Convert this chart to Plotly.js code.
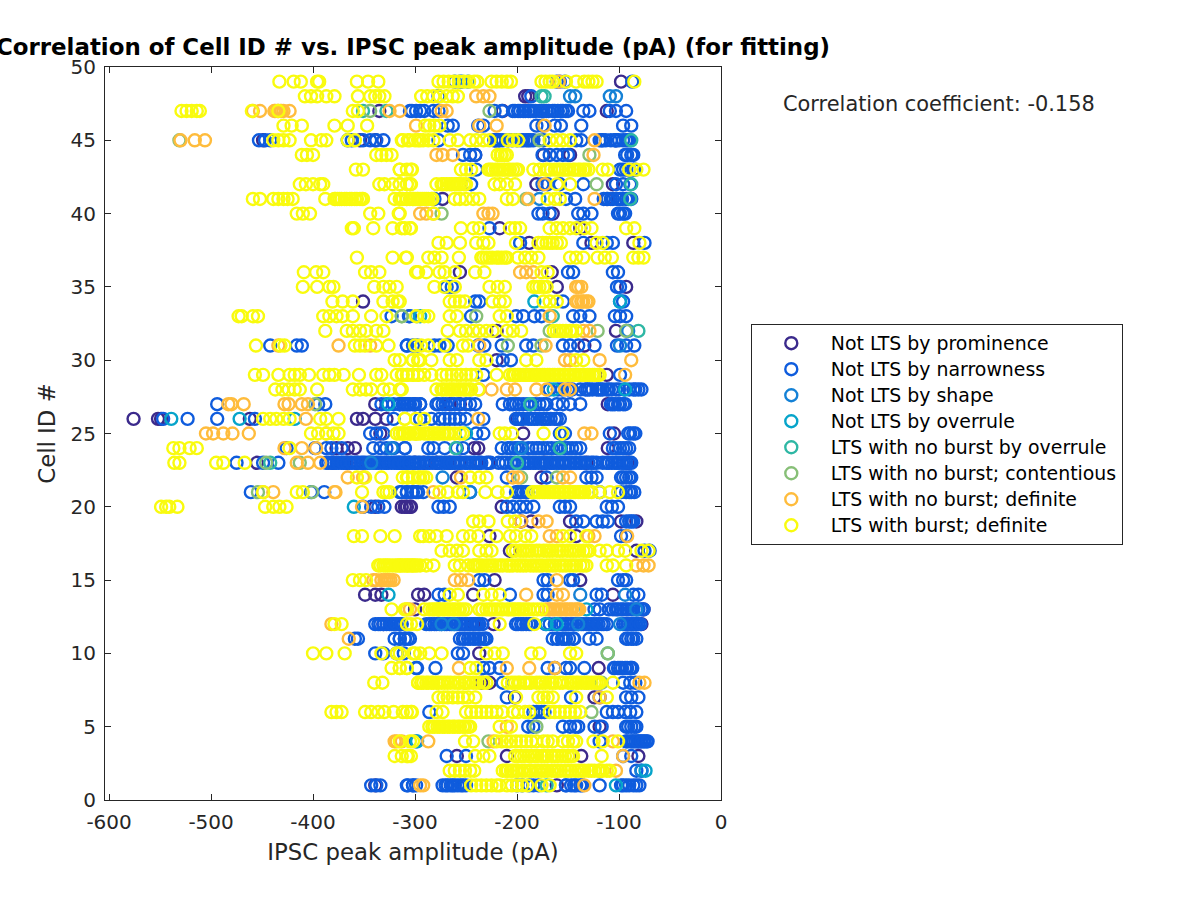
<!DOCTYPE html>
<html>
<head>
<meta charset="utf-8">
<script src="https://cdn.plot.ly/plotly-3.0.1.min.js"></script>
<style>html,body{margin:0;padding:0;background:#fff}#chart{width:1200px;height:900px}</style>
</head>
<body>
<div id="chart"></div>
<script>
// each row: [cell ID, amplitudes in pA...]; a cell may have more than one row
const prominence = [
[1,-339,-161],[3,-259,-210,-137,-81],[5,-119],[7,-202,-124],[8,-235,-227],[9,-163,-120],[10,-237],
[12,-331,-243,-223,-78],[13,-300,-76],[14,-349,-339,-333,-297,-291,-243,-106],[15,-222,-138],[17,-207,-83],
[18,-227,-142],[19,-196,-186,-148,-98,-83],[20,-339,-313,-310,-305,-308,-304,-215],[22,-259,-176],
[23,-455,-380,-367,-357,-344,-300,-291,-279,-266,-256,-237,-228,-173,-132,-91],
[24,-377,-366,-359,-242,-238,-111],[25,-334,-194,-105],
[26,-576,-552,-549,-462,-357,-351,-339,-328,-200],[27,-339,-300,-266,-256,-111],
[29,-112],[30,-220],[31,-134],[32,-220,-103],[34,-351],[35,-161,-93],[36,-256,-166],[38,-188,-127,-86],
[39,-217,-138],[40,-165],[41,-273,-112],[42,-181,-106],[44,-241,-174,-148],
[45,-449,-354,-339,-222,-103],[47,-335,-214,-112],[48,-192,-189],[49,-98]
];
const narrowness = [
[1,-343,-338,-334,-307,-302,-299,-308,-302,-273,-268,-263,-258,-253,-184,-179,-152,-147,-142,-138,-119,-98,-93,-86,-80],
[2,-83,-78],[3,-269,-250,-96,-88],[4,-299,-119,-93,-86,-81,-76,-73],
[5,-189,-184,-155,-148,-143,-140,-124,-117,-93,-88,-83],
[6,-286,-184,-181,-176,-173,-112,-106,-101,-94,-89,-83],[7,-210,-147,-119,-93,-88,-81],[8,-214,-96,-89,-84],
[9,-298,-299,-280,-233,-227,-217,-170,-152,-148,-134,-104,-99,-94,-89,-88],
[10,-339,-331,-318,-311,-258,-253],
[11,-359,-356,-320,-315,-310,-307,-315,-310,-305,-253,-248,-243,-238,-233,-230,-161,-156,-152,-145,-129,-122,-91,-88,-83],
[12,-339,-334,-328,-325,-321,-318,-315,-286,-281,-276,-271,-266,-261,-256,-251,-246,-241,-237,-201,-196,-191,-188,-152,-147,-142,-137,-132,-127,-122,-117,-112,-94,-89,-86,-81],
[13,-124,-119,-103,-98,-93,-88,-83,-78],[14,-277,-271,-207,-174,-170,-122,-117,-86,-81],
[15,-237,-232,-174,-170,-148,-145,-101,-96,-93],[17,-75,-70],[18,-98,-93],[19,-142,-135,-122,-116,-111,-93,-86],
[20,-351,-343,-336,-330,-277,-272,-266,-210,-204,-197,-191,-184,-158,-153,-148,-112,-107,-101],
[21,-461,-402,-389,-313,-308,-303,-299,-315,-308,-302,-297,-292,-246,-201,-196,-191,-119,-93,-90,-85],
[22,-210,-171,-132,-127,-122,-98,-93,-88],
[23,-475,-449,-434,-387,-382,-377,-372,-364,-359,-351,-338,-333,-328,-323,-318,-313,-308,-302,-297,-315,-310,-305,-295,-286,-274,-269,-261,-251,-246,-241,-194,-189,-184,-179,-174,-168,-161,-156,-152,-147,-142,-137,-127,-122,-112,-107,-102,-97,-93,-88],
[24,-426,-398,-387,-382,-372,-341,-334,-328,-321,-310,-310,-287,-282,-271,-259,-253,-209,-202,-181,-174,-161,-153,-142,-106,-99,-93],
[25,-344,-338,-331,-240,-233,-158,-153,-109,-89,-84],
[26,-547,-523,-494,-457,-321,-295,-284,-276,-271,-266,-261,-256,-250,-233,-201,-196,-189,-183,-176,-170,-161],
[27,-494,-395,-388,-333,-328,-321,-315,-308,-302,-295,-315,-310,-305,-295,-279,-273,-261,-246,-214,-207,-201,-194,-186,-178,-171,-161,-155,-148,-138,-106,-101,-96],
[28,-138,-133,-129,-122,-116,-103,-86,-81,-78],[29,-233,-99],[30,-214,-206],
[31,-442,-416,-411,-308,-298,-308,-302,-281,-276,-268,-238,-232,-215,-191,-184,-155,-148,-140,-124,-102,-93,-85],
[33,-323,-306,-305,-245,-201,-194,-183,-176,-145,-138,-129,-104,-99,-93],[34,-241,-237,-155,-99,-96],
[35,-269,-264,-102,-99],[36,-150,-145,-106,-101],[38,-197,-135,-112,-106,-75],[39,-227],
[40,-179,-175,-168,-140,-135,-127,-101,-96],[41,-281,-152,-143,-111,-106,-99,-93,-88],
[42,-245,-175,-170,-158,-135,-103,-96,-89],[43,-240,-99,-93,-86],
[44,-253,-246,-241,-175,-168,-161,-155,-150,-94,-86],
[45,-453,-447,-442,-366,-362,-351,-344,-338,-331,-277,-220,-217,-194,-189,-184,-174,-142,-137,-119,-116,-103,-96,-89],
[46,-268,-263,-238,-233,-181,-175,-163,-157,-137,-96,-88],
[47,-303,-299,-305,-295,-291,-282,-277,-222,-215,-204,-199,-194,-189,-184,-178,-171,-165,-157,-152,-135,-129,-109,-103,-93],
[48,-277,-186],[49,-261,-256,-161,-158,-153,-87],
// tightly packed stretches, where the rings merge into a solid band
[23,-385,-380,-375,-370,-367,-362,-356,-353,-349,-346,-341,-336,-330,-326,-320,-316,-311,-306,-300,-292,-288,-283,-279,-276,-271,-266,-263,-258,-255,-249,-243,-238,-235,-230,-226],
[23,-218,-214,-211,-206,-203,-198,-192,-187,-182,-176,-171,-166,-164,-159,-154,-149,-144,-139,-134,-130,-125,-116,-110,-104,-100,-95,-90],
[12,-336,-331,-323,-319,-313,-289,-284,-279,-274,-269,-264,-259,-254,-249,-244,-239,-234,-199,-194,-186,-172,-168,-163,-158,-155,-150,-145,-140,-135,-130,-125,-120,-115,-96,-91,-84],
[13,-110,-106,-101,-96,-91,-86,-81,-76],[11,-256,-251,-246,-241,-236,-231,-165,-160,-154,-149,-144,-93,-86],
[47,-202,-197,-192,-187,-182,-176,-174,-169,-163,-160,-155,-150],[45,-222,-218,-214,-209,-205,-200,-196,-191,-187,-117,-113,-108,-104,-100,-93,-91],
[24,-215,-206,-199,-195,-189,-185,-178,-170,-166,-157,-150,-146,-138,-103,-96,-90],[9,-105,-101,-97,-92,-87],[4,-89,-84,-79,-75],
[1,-270,-265,-261,-255,-250,-152,-144,-136,-96,-90,-83],[27,-312,-307,-300,-277,-270,-264,-257,-250,-241,-204,-198,-190,-182,-174],
[28,-168,-160,-156,-150,-146,-120,-112,-107],[19,-90,-88],[5,-91,-85],[21,-199,-194,-189,-98,-88],[41,-115,-108,-102,-97,-91],
[43,-96,-90,-84],[40,-99,-94],[44,-92,-88],[12,-92,-88,-83,-79],[25,-91,-86],[22,-96,-90],
[28,-131,-126,-118,-110,-100,-95,-90,-84],[4,-92,-87,-82,-78,-72],[27,-108,-104,-99,-94],[26,-198,-194,-186,-180,-173,-167,-163,-158],[1,-200,-195,-188]
];
const shape = [
[2,-78],[12,-274,-262,-140,-99],[13,-83],[14,-94,-138],[21,-246],[22,-273],[23,-343],[24,-323,-196,-158],
[31,-99],[32,-91],[41,-178],[48,-148,-143,-109,-103],[49,-254,-248]
];
const overrule = [
[1,-103],[2,-74],[4,-298],[12,-171,-161],[13,-132],[14,-326],[20,-360],[25,-250],
[26,-539,-472,-418],[27,-326,-187],[28,-164,-94],[33,-295],[34,-183,-99]
];
const ltsOverrule = [
[1,-171],[10,-111],[23,-442,-200],[24,-260,-158],[27,-187],[32,-81],[33,-165],[41,-89],[42,-88],[45,-88],[47,-351,-328],[48,-176,-173]
];
const ltsContentious = [
[4,-228],[5,-181],[6,-127],[8,-117],[10,-111],[21,-454,-401],[22,-196,-161],[23,-446,-413],[27,-398],
[31,-209,-176],[32,-168,-121,-93],[33,-313,-298,-313,-240],[40,-274],[41,-191],[42,-122],[44,-129],
[45,-531,-178],[47,-344,-227]
];
const ltsDefinite = [
[1,-295,-292,-134],[2,-119,-103],[3,-96],[4,-320,-318,-313,-287,-223,-106],[5,-210],[7,-119],[8,-251,-80,-75],
[9,-257,-210,-188,-163],[11,-365],[12,-382],[13,-308,-305,-277,-168,-163,-158,-153,-148,-143],[14,-191,-161,-155],
[15,-341,-333,-326,-321,-261,-255,-248,-161],[16,-83,-76,-71],[18,-168,-161,-130,-124,-92],[19,-196,-179,-171],
[20,-352],[21,-449,-439,-378,-379,-282],[22,-366,-351,-255,-204,-199,-155,-148],[23,-416,-405,-393],
[24,-428,-411,-397],[25,-505,-498,-488,-479,-463,-387,-299,-134,-127],[26,-407,-238],
[27,-483,-480,-468,-428,-424,-411,-405],[28,-237,-225,-210,-202,-181,-171,-153,-148],[29,-94],[30,-153,-148,-119,-88],
[31,-434,-375,-344,-237,-172],[32,-135,-129],[33,-168],[34,-142,-137,-130],[35,-142,-137],[36,-197,-191,-184],
[40,-295,-289,-282,-233,-228,-224],[41,-189,-124],[42,-173],[44,-279,-273,-263,-125],[45,-530,-516,-506,-124],
[46,-299,-237,-220,-173],[47,-459,-452,-437,-434,-431,-423,-325,-315,-274,-269],[48,-240,-233,-227],[49,-159],
[13,-172,-169,-165,-160,-156,-151,-146,-141,-139],[47,-438,-435,-432,-429],[15,-338,-330,-328,-324],[34,-140,-135,-132],[35,-140]
];
const ltsBurst = [
[1,-245,-240,-235,-230,-225,-220,-217,-210,-205,-200,-195,-190,-176,-168],
[2,-266,-261,-256,-251,-246,-242,-214,-209,-204,-199,-192,-186,-179,-173,-166,-160,-153,-147,-140,-134,-127,-120,-116,-109],
[3,-320,-313,-307,-308,-304,-241,-233,-227,-202,-196,-189,-183,-176,-170,-163,-156,-150,-145,-117],
[4,-302,-315,-305,-251,-243,-220,-215,-210,-206,-201,-196,-191,-186,-181,-174,-170,-165,-155,-150,-145,-142,-125,-116,-101],
[5,-286,-281,-276,-271,-266,-261,-256,-251,-246,-217,-206],
[6,-382,-377,-372,-349,-343,-336,-330,-321,-312,-303,-308,-304,-279,-273,-250,-245,-240,-235,-230,-225,-220,-214,-204,-199,-192,-188,-168,-163,-158,-153,-148,-143,-138],
[7,-277,-272,-268,-263,-258,-253,-248,-241,-201,-179,-174,-170,-165,-142,-112],
[8,-340,-332,-297,-297,-292,-287,-282,-277,-268,-261,-256,-250,-243,-237,-230,-209,-202,-197,-191,-186,-178,-172,-165,-158,-155,-147,-142,-137,-132,-127,-122,-119,-106],
[9,-323,-315,-308,-315,-308,-246,-240],
[10,-400,-387,-369,-333,-318,-300,-315,-302,-295,-286,-274,-230,-222,-214,-186,-178,-148,-142],
[12,-379,-372,-308,-298,-304,-217,-183],
[13,-323,-310,-308,-291,-286,-281,-276,-271,-266,-261,-256,-250,-237,-230,-225,-219,-214,-207,-202,-197,-191,-184],
[14,-266,-258,-233,-225,-217],[15,-361,-354,-348],
[16,-336,-331,-327,-322,-317,-310,-305,-300,-315,-308,-302,-295,-289,-282,-261,-256,-248,-241,-237,-230,-224,-217,-210,-204,-197,-191,-184,-178,-171,-165,-158,-152,-145,-138,-132,-112,-106,-93],
[17,-274,-266,-259,-253,-237,-230,-225,-201,-194,-188,-181,-174,-168,-161,-155,-148,-142,-135,-129,-119,-112,-101,-94,-78,-71],
[18,-360,-352,-334,-320,-295,-292,-286,-279,-269,-253,-246,-238,-220,-207,-201,-192,-186,-155,-148,-132],
[19,-243,-237,-228,-209,-202],[20,-549,-544,-541,-533,-447,-439,-433,-426],
[21,-449,-416,-410,-352,-331,-328,-325,-276,-268,-258,-253,-231,-219,-210,-183,-178,-173,-168,-163,-158,-153,-148,-143,-138,-134,-127,-119,-109,-101],
[22,-357,-349,-333,-308,-302,-295,-312,-307,-302,-297,-292,-289,-246,-237,-230],
[23,-536,-531,-495,-488,-467],[24,-537,-531,-521,-514,-423],
[25,-402,-395,-387,-380,-375,-318,-312,-305,-299,-315,-310,-305,-300,-295,-291,-286,-281,-276,-271,-266,-261,-256,-253,-217,-212,-205,-174,-156],
[26,-449,-442,-436,-429,-423,-393,-387,-375,-310,-299,-310,-291],
[28,-437,-430,-424,-418,-413,-396,-361,-354,-348,-343,-331,-325,-313,-315,-279,-274,-269,-264,-259,-255,-250,-245,-238],
[29,-457,-449,-434,-423,-418,-413,-404,-390,-384,-379,-370,-355,-338,-333,-318,-312,-307,-302,-297,-313,-308,-302,-297,-291,-284,-274,-269,-264,-259,-255,-250,-245,-240,-220,-207,-202,-197,-192,-188,-183,-178,-173,-168,-163,-158,-153,-148,-143,-138,-134,-129,-124,-119],
[30,-320,-302,-295,-315,-302,-297,-284,-266,-259,-237,-230,-191,-181,-142,-135],
[31,-456,-432,-428,-359,-354,-349,-338,-326,-300,-294,-287,-271,-253,-248],
[32,-388,-367,-361,-354,-348,-338,-331,-268,-256,-250,-243,-237,-230,-224,-210,-204,-196,-161,-155,-148,-142],
[33,-473,-470,-459,-454,-390,-384,-377,-371,-361,-343,-328,-299,-291,-287,-266,-259,-217,-210],
[34,-381,-371,-361,-331,-322,-317,-315,-266,-261,-256,-251,-224,-217,-212,-174,-168,-161],
[35,-410,-396,-384,-380,-340,-331,-325,-318,-281,-271,-261,-227,-219,-212,-184,-178,-171],
[36,-409,-397,-390,-349,-343,-335,-297,-299,-289,-276,-271,-261,-241,-232,-176,-170],
[37,-357,-322,-309,-308,-287,-281,-274,-257,-233,-227,-220,-215,-210,-199,-192,-186,-179,-148,-142,-135,-121,-114,-107,-86,-81,-76],
[38,-277,-269,-256,-240,-233,-228,-201,-179,-171,-165,-157,-122,-116,-80],
[39,-362,-360,-341,-322,-310,-304,-313,-305,-255,-243,-237,-207,-202,-197,-168,-161,-155,-148,-142,-134,-127,-93,-85],
[40,-416,-410,-403,-344,-336,-316,-315,-282],
[41,-459,-452,-439,-434,-429,-425,-420,-388,-379,-374,-369,-364,-359,-354,-351,-320,-313,-308,-302,-297,-315,-308,-302,-295,-289,-284,-261,-256,-250,-243,-237,-210,-204,-170,-163,-158],
[42,-413,-407,-400,-393,-390,-335,-330,-322,-315,-305,-315,-308,-304,-274,-269,-264,-259,-255,-250,-222,-217,-210,-202,-161,-148],
[43,-358,-351,-315,-308,-303,-315,-304,-255,-250,-245,-228,-224,-219,-214,-207,-201,-184,-178,-170,-163,-158,-152,-145,-140,-135,-130,-116,-111,-90,-83,-76],
[44,-411,-406,-400,-338,-333,-328,-323,-219,-215,-210],
[45,-439,-434,-429,-423,-402,-392,-387,-366,-359,-313,-307,-300,-295,-312,-305,-297,-292,-287,-282,-266,-258,-246,-240,-233,-227,-209,-204,-199,-168,-161,-155,-148],
[46,-429,-421,-411,-379,-366,-347,-290,-286,-281,-276],
[47,-529,-524,-519,-514,-511,-460,-434,-361,-356],
[48,-408,-402,-396,-387,-379,-356,-344,-339,-335,-330,-294,-288,-282,-276,-269,-263,-258],
[49,-433,-419,-412,-396,-394,-357,-346,-336,-277,-272,-267,-262,-257,-252,-247,-242,-239,-225,-220,-215,-210,-206,-176,-172,-168,-165,-152,-142,-134,-130,-126,-122,-85],
// tightly packed stretches, where the rings merge into a solid band
[41,-378,-376,-372,-367,-362,-357,-352,-312,-305,-300,-298,-293,-291,-287,-283],
[43,-226,-221,-217,-212,-209,-204,-199,-172,-167,-160,-155,-149,-143,-138,-133],[42,-279,-272,-266,-261,-257,-252],
[16,-334,-329,-325,-319,-314,-312,-307,-303,-298,-243,-239,-234,-227,-221,-214,-207,-200,-194,-187,-181,-175,-168,-162,-155,-148,-142,-135],
[17,-204,-197,-191,-185,-178,-171,-165,-158,-151,-145,-139,-132],[21,-185,-180,-175,-170,-165,-160,-155,-150,-145,-140,-136,-130],
[13,-283,-278,-273,-268,-263,-258,-253,-234,-227,-222,-216,-210,-204,-199,-194,-188,-180,-176],
[8,-294,-289,-284,-279,-274,-271,-265,-258,-252,-247,-240,-233,-205,-199,-193,-188,-181,-175,-168,-162,-150,-145,-140,-134,-130,-124,-120],
[2,-211,-206,-201,-195,-188,-182,-176,-170,-163,-157,-150,-143,-137,-130,-124,-118,-112],
[29,-204,-199,-194,-190,-185,-180,-175,-170,-165,-160,-155,-150,-145,-140,-136,-131,-126,-121],[37,-235,-230,-224,-218,-212],[32,-164,-158,-152,-146],
[3,-199,-193,-186,-180,-173,-166,-160,-153,-147],[5,-283,-278,-273,-268,-263,-258,-253,-248],[25,-312,-307,-302,-297,-288,-283,-278,-273,-268],
[28,-272,-266,-262,-257,-252,-247],[38,-175,-168,-161],[35,-181,-174],[44,-216,-212]
];
const seriesNames = ['Not LTS by prominence','Not LTS by narrowness','Not LTS by shape','Not LTS by overrule','LTS with no burst by overrule','LTS with no burst; contentious','LTS with no burst; definite','LTS with burst; definite'];
const seriesColors = ['#3B2A8C','#0F5CDD','#1481D6','#06A4CA','#2EB7A4','#87BF77','#FFBC3C','#F9FB0E'];
const seriesRows = [prominence,narrowness,shape,overrule,ltsOverrule,ltsContentious,ltsDefinite,ltsBurst];
const yTicks = [0,5,10,15,20,25,30,35,40,45,50];
const xTicks = [-600,-500,-400,-300,-200,-100,0];
const xTickLabels = ['-600','-500','-400','-300','-200','-100','0'];

const traces = seriesRows.map((rows,i)=>{
  const x=[],y=[];
  rows.forEach(r=>r.slice(1).forEach(a=>{x.push(a);y.push(r[0]);}));
  return {type:'scatter',mode:'markers',name:'<span style="font-size:18.9px">'+seriesNames[i]+'</span>',x,y,cliponaxis:true,
    marker:{symbol:'circle-open',size:12,color:seriesColors[i],line:{width:2.4,color:seriesColors[i]}}};
});
const ink='#262626';
const axis={showline:true,linecolor:ink,linewidth:1,mirror:'ticks',ticks:'inside',ticklen:6,tickcolor:ink,
  zeroline:false,showgrid:false,ticklabelstandoff:4,tickfont:{family:'DejaVu Sans',size:20,color:ink}};
Plotly.newPlot('chart',traces,{
  width:1200,height:900,paper_bgcolor:'#fff',plot_bgcolor:'#fff',
  margin:{l:104.5,r:479.3,t:66.7,b:100,pad:0},
  font:{family:'DejaVu Sans'},
  title:{text:'<b>Correlation of Cell ID # vs. IPSC peak amplitude (pA) (for fitting)</b>',
    x:413/1200,xanchor:'center',xref:'container',y:1-47/900,yref:'container',yanchor:'middle',
    font:{family:'DejaVu Sans',size:22.9,color:'#000'}},
  xaxis:Object.assign({},axis,{range:[-604,0],tickvals:xTicks,ticktext:xTickLabels,
    title:{text:'IPSC peak amplitude (pA)',standoff:11,font:{family:'DejaVu Sans',size:22.8,color:ink}}}),
  yaxis:Object.assign({},axis,{range:[0,50],tickvals:yTicks,
    title:{text:'Cell ID #',standoff:8,font:{family:'DejaVu Sans',size:22.8,color:ink}}}),
  legend:{x:(750.5-104.5)/616.2,xanchor:'left',y:(800-324)/733.3,yanchor:'top',
    bgcolor:'#fff',bordercolor:ink,borderwidth:1,traceorder:'normal',tracegroupgap:0,
    itemsizing:'trace',itemwidth:69,itemclick:false,font:{family:'DejaVu Sans',size:17.7,color:'#000'}},
  annotations:[{text:'Correlation coefficient: -0.158',xref:'paper',yref:'paper',
    x:(781-104.5)/616.2,y:(800-104)/733.3,xanchor:'left',yanchor:'middle',showarrow:false,
    font:{family:'DejaVu Sans',size:20.9,color:ink}}]
},{displayModeBar:false,responsive:false});
</script>
</body>
</html>
